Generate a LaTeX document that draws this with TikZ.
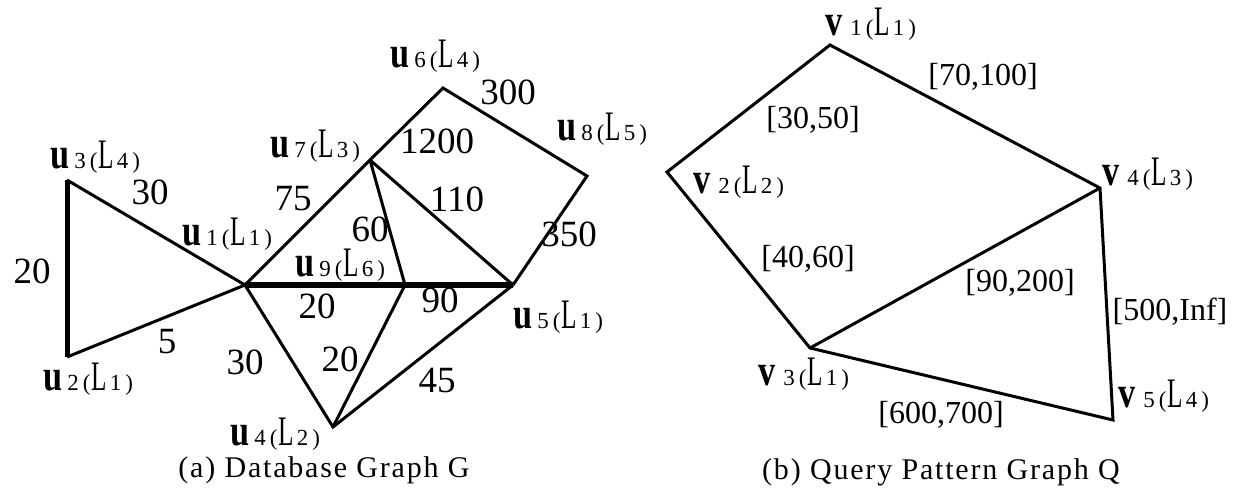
\documentclass[tikz,border=0pt]{standalone}
\usepackage{fontspec}
\usepackage{graphicx}
\setmainfont{Liberation Serif}
\newfontfamily\capfont[LetterSpace=6]{Liberation Serif}
\newcommand{\vlab}[4]{{\fontsize{44}{44}\selectfont\bfseries\scalebox{0.78}[1]{#1}}\kern#4pt{\fontsize{23}{23}\selectfont #2\kern4pt(}\kern1pt{\fontsize{42}{42}\selectfont\scalebox{0.6}[1]{L}}\kern3pt{\fontsize{23}{23}\selectfont #3\kern4pt)}}
\begin{document}
\begin{tikzpicture}[x=1pt,y=-1pt,
  edge/.style={line width=3pt,line join=miter},
  thickedge/.style={line width=6pt},
  sideedge/.style={line width=5pt},
  wt/.style={font=\fontsize{37}{37}\selectfont,inner sep=0pt},
  rng/.style={font=\fontsize{32}{32}\selectfont,inner sep=0pt},
  lbl/.style={anchor=base west,inner sep=0pt},
  captxt/.style={font=\capfont\fontsize{30}{30}\selectfont,inner sep=0pt}]
\useasboundingbox (0,0) rectangle (1233,488);
% vertices of G
\coordinate (u3) at (67,180);
\coordinate (u2) at (67,357);
\coordinate (u1) at (245,285);
\coordinate (u7) at (370,160);
\coordinate (u6) at (443,88);
\coordinate (u8) at (587,176);
\coordinate (u5) at (513,285);
\coordinate (u9) at (405,285);
\coordinate (u4) at (333,427);
% vertices of Q
\coordinate (v1) at (830,45);
\coordinate (v2) at (667,172);
\coordinate (v4) at (1100,188);
\coordinate (v3) at (810,348);
\coordinate (v5) at (1113,420);
% vertex labels
\node[lbl] (lu3) at (50,168) {\vlab{u}{3}{4}{5}};
\node[lbl] (lu1) at (182,245) {\vlab{u}{1}{1}{5}};
\node[lbl] (lu2) at (43,390) {\vlab{u}{2}{1}{5}};
\node[lbl] (lu7) at (270,157) {\vlab{u}{7}{3}{5}};
\node[lbl] (lu6) at (390,67) {\vlab{u}{6}{4}{5}};
\node[lbl] (lu8) at (557,140) {\vlab{u}{8}{5}{5}};
\node[lbl] (lu9) at (295,276) {\vlab{u}{9}{6}{5}};
\node[lbl] (lu5) at (513,328) {\vlab{u}{5}{1}{5}};
\node[lbl] (lu4) at (230,445) {\vlab{u}{4}{2}{5}};
\node[lbl] (lv1) at (825,35) {\vlab{v}{1}{1}{8}};
\node[lbl] (lv2) at (693,193) {\vlab{v}{2}{2}{8}};
\node[lbl] (lv4) at (1102,185) {\vlab{v}{4}{3}{8}};
\node[lbl] (lv3) at (758,385) {\vlab{v}{3}{1}{8}};
\node[lbl] (lv5) at (1118,407) {\vlab{v}{5}{4}{8}};
% edge weights of G
\node[wt] (w32) at (32,271) {20};
\node[wt] (w31) at (150,192) {30};
\node[wt] (w21) at (167,342) {5};
\node[wt] (w14) at (245,362) {30};
\node[wt] (w17) at (293,199) {75};
\node[wt] (w76) at (437,141) {1200};
\node[wt] (w68) at (508,92) {300};
\node[wt] (w75) at (457,199) {110};
\node[wt] (w85) at (569,234) {350};
\node[wt] (w79) at (370,229) {60};
\node[wt] (w19) at (317,306) {20};
\node[wt] (w95) at (440,300) {90};
\node[wt] (w94) at (340,359) {20};
\node[wt] (w45) at (437,380) {45};
% ranges of Q
\node[rng] (r12) at (813,120) {[30,50]};
\node[rng] (r14) at (983,77) {[70,100]};
\node[rng] (r23) at (808,259) {[40,60]};
\node[rng] (r34) at (1020,283) {[90,200]};
\node[rng] (r45) at (1170,312) {[500,Inf]};
\node[rng] (r35) at (941,415) {[600,700]};
% captions
\node[captxt] (capa) at (324,470) {(a) Database Graph G};
\node[captxt] (capb) at (941,472) {(b) Query Pattern Graph Q};
% edges of G
\draw[sideedge] (u3) -- (u2);
\draw[edge] (u3) -- (u1) -- (u2);
\draw[edge] (u1) -- (u7) -- (u6) -- (u8) -- (u5);
\draw[edge] (u7) -- (u5);
\draw[edge] (u7) -- (u9);
\draw[edge] (u1) -- (u4) -- (u5);
\draw[edge] (u9) -- (u4);
\draw[thickedge] (u1) -- (u9) -- (u5);
% edges of Q
\draw[edge] (v3) -- (v2) -- (v1) -- (v4) -- (v5) -- cycle;
\draw[edge] (v3) -- (v4);
\end{tikzpicture}
\end{document}
